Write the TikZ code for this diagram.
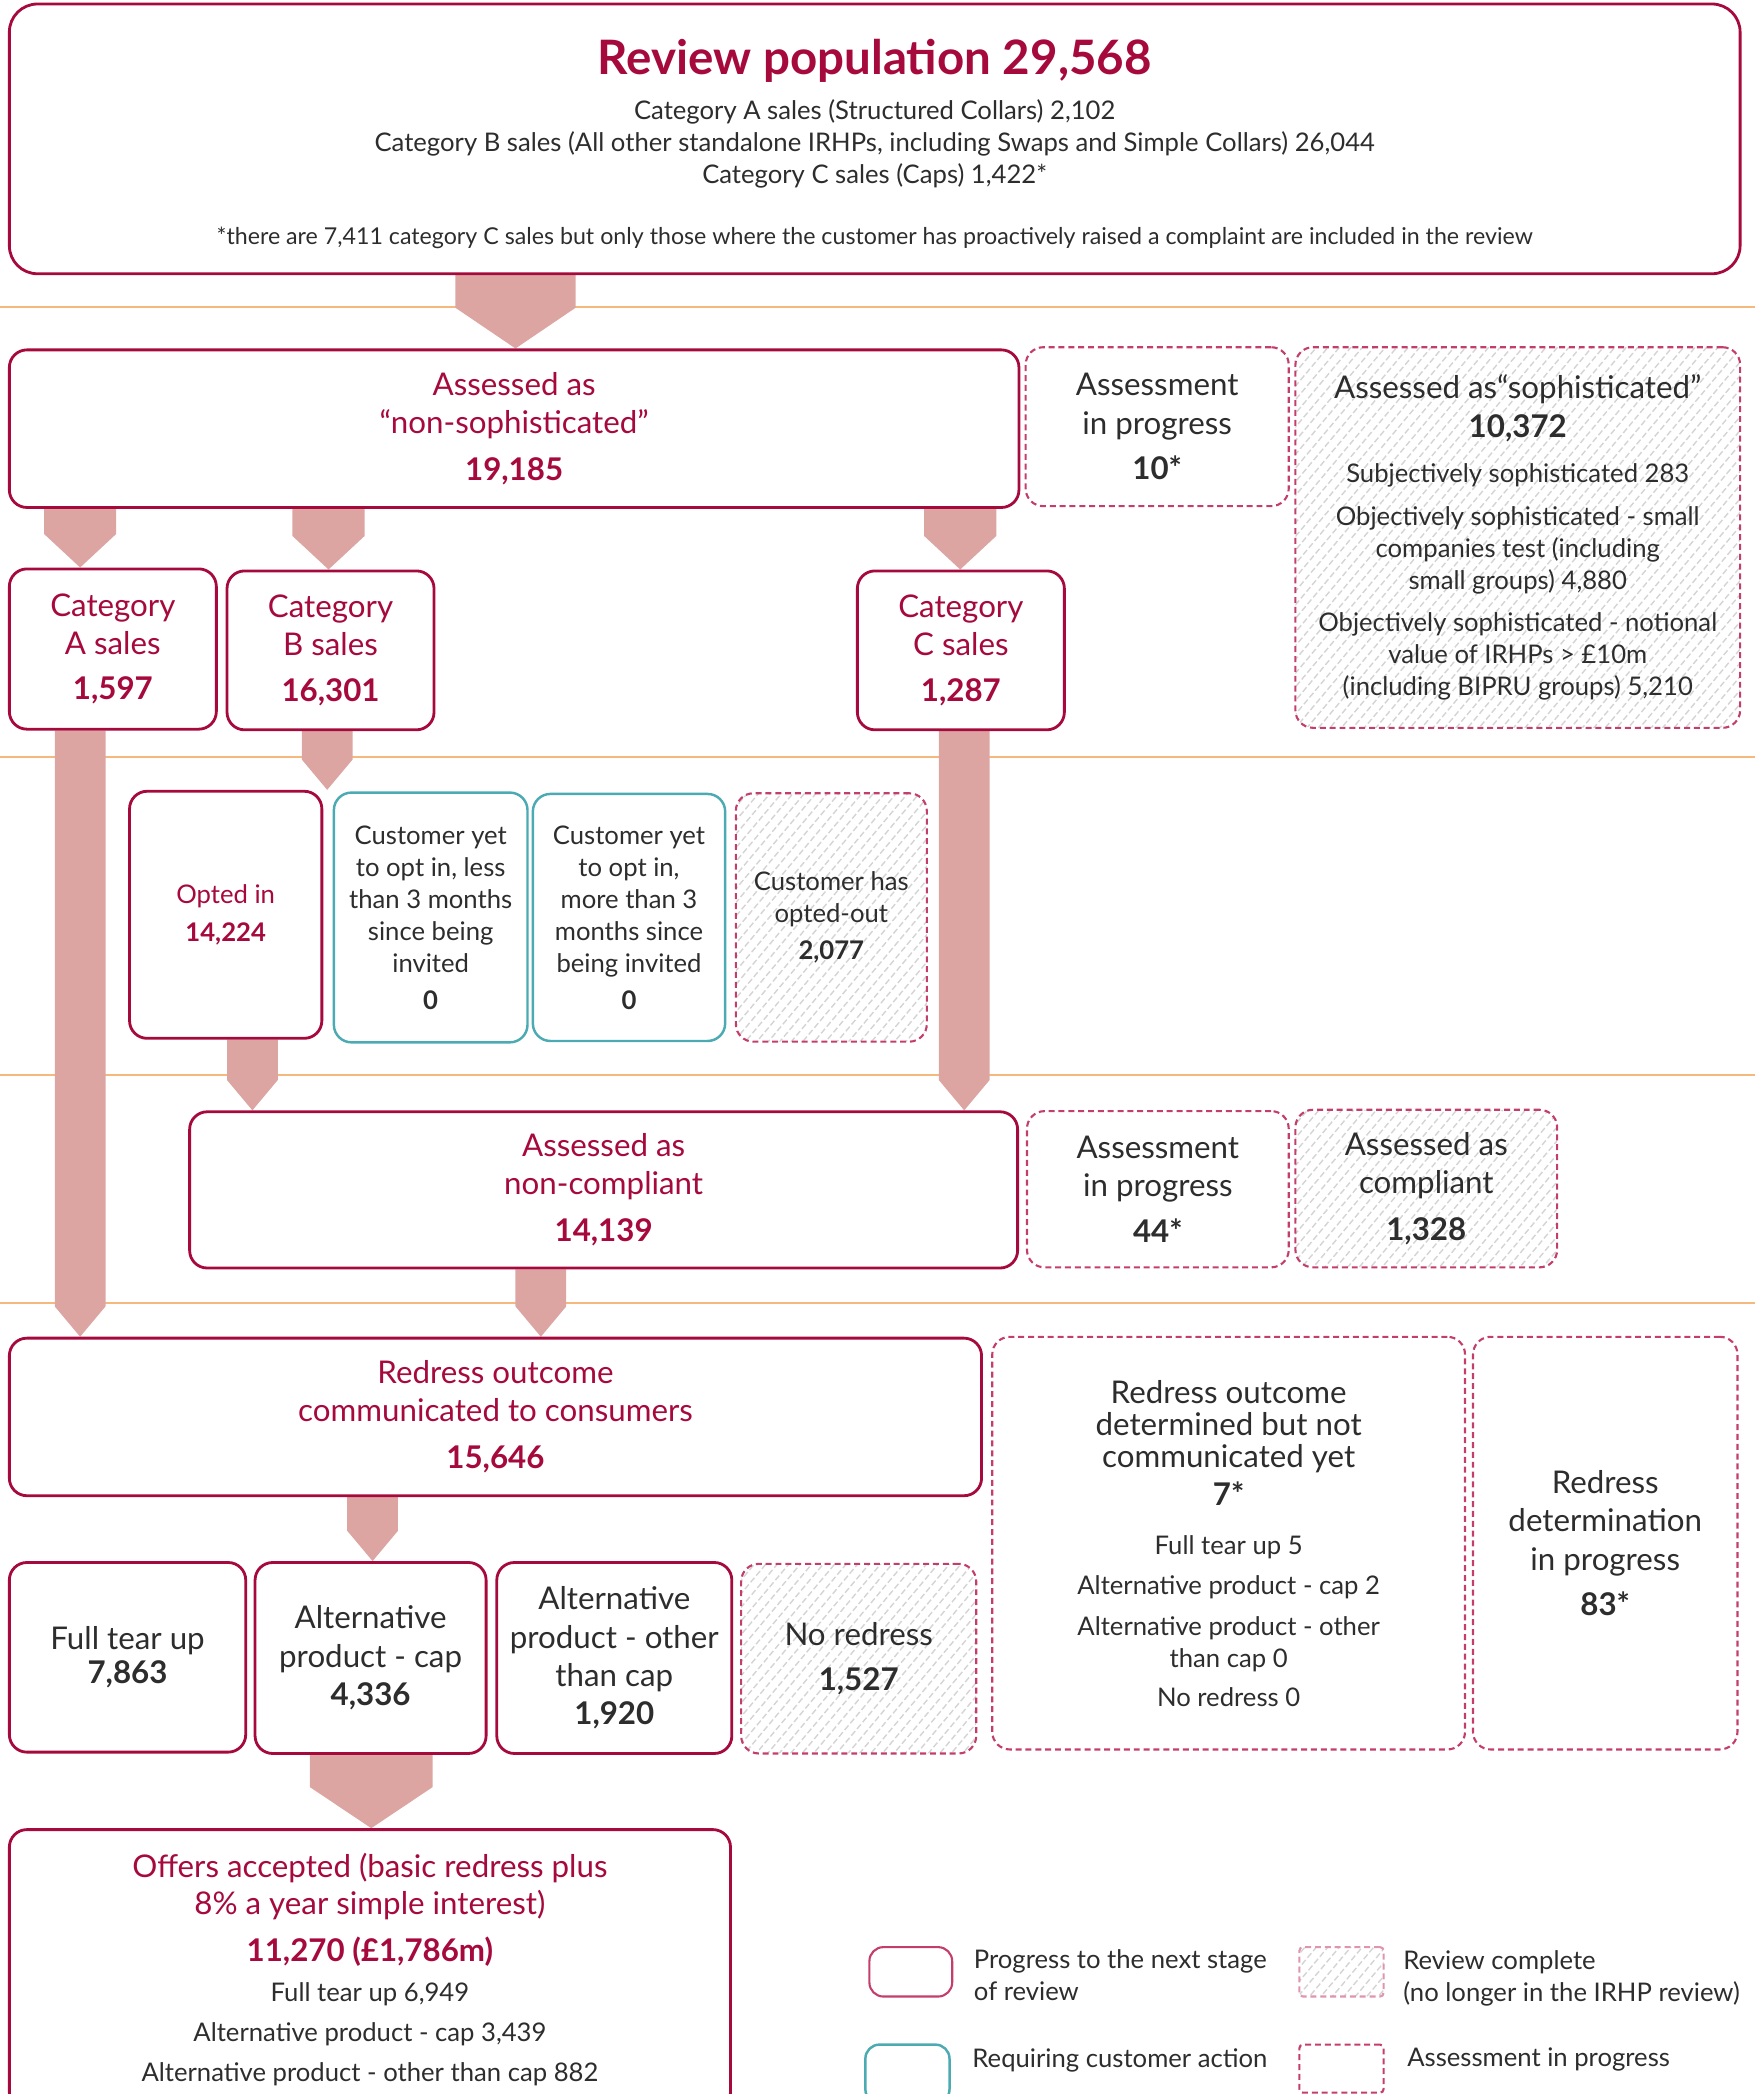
\documentclass[tikz,border=0pt]{standalone}
\usepackage{fontspec}
\setmainfont{Lato}
\usepackage{tikz}
\usetikzlibrary{positioning,calc,patterns.meta,backgrounds}

\definecolor{crimson}{RGB}{166,10,61}
\definecolor{crimsondash}{RGB}{196,62,106}
\definecolor{optteal}{RGB}{75,170,178}
\definecolor{flowpink}{RGB}{220,165,162}
\definecolor{stageline}{RGB}{246,185,125}
\definecolor{inkgray}{RGB}{45,45,45}
\definecolor{hatchgray}{RGB}{212,212,212}

\newcommand{\pxu}{0.013356cm}
\newcommand{\notesize}{\fontsize{6.6}{8.5}\selectfont\lineskiplimit=-9pt}
\newcommand{\bodysize}{\fontsize{7.3}{9.1}\selectfont\lineskiplimit=-9pt}
\newcommand{\bigsize}{\fontsize{8.9}{10.9}\selectfont\lineskiplimit=-9pt}
\newcommand{\titlesize}{\fontsize{13.5}{15}\selectfont}

% fat arrow from one box down to the next: from, to, x centre, half width
\newcommand{\flow}[4]{%
  \fill[flowpink] let \p1=(#1.south), \p2=(#2.north), \p3=(#3,0), \p4=(#4,0),
    \p5=({17+0.3*#4},0) in
    (\x3-\x4,\y1) -- (\x3+\x4,\y1) -- (\x3+\x4,\y2+\x5) -- (\x3,\y2)
    -- (\x3-\x4,\y2+\x5) -- cycle;}

\tikzset{
  boxsize/.style 2 args={minimum width=#1*\pxu, minimum height=#2*\pxu},
  stage/.style={draw=crimson, line width=0.8pt, rounded corners=5pt,
    align=center, inner sep=0pt, text=crimson, font=\bigsize},
  action/.style={draw=optteal, line width=0.7pt, rounded corners=5pt,
    align=center, inner sep=0pt, font=\bodysize},
  pending/.style={draw=crimsondash, line width=0.6pt, dash pattern=on 1.7pt off 1.1pt,
    rounded corners=5pt, align=center, inner sep=0pt, font=\bigsize},
  closed/.style={pending, pattern={Lines[angle=50,distance=2.5pt,line width=0.4pt]},
    pattern color=hatchgray},
  keytext/.style={inner sep=0pt, align=left, font=\bodysize},
}

\begin{document}
\begin{tikzpicture}[x=\pxu, y=-\pxu, every node/.style={text=inkgray}]
  \clip (0,0) rectangle (1314,1568);

  \node [stage, boxsize={1296}{202}, rounded corners=8pt, font=\bodysize, text=inkgray] (review) at (655,104)
    {\rule{0pt}{13pt}{\titlesize\bfseries\color{crimson}Review population 29,568}\\[3.5pt]
     Category A sales (Structured Collars) 2,102\\
     Category B sales (All other standalone IRHPs, including Swaps and Simple Collars) 26,044\\
     Category C sales (Caps) 1,422*\\[8.3pt]
     {\notesize *there are 7,411 category C sales but only those where the customer has proactively raised a complaint are included in the review}};

  \node [stage, boxsize={756}{118}] (nonsoph) at (385,321) {Assessed as\\“non-sophisticated”\\[2.5pt]\textbf{19,185}};
  \node [pending, boxsize={197}{119}] (waitsoph) at (866.5,319.5) {Assessment\\in progress\\[2pt]\textbf{10*}};
  \node [closed, boxsize={333}{285}, font=\bodysize] (soph) at (1136.5,402.5)
    {{\bigsize Assessed as“sophisticated”}\\[1.9pt]
     {\bigsize\bfseries 10,372}\\[3.8pt]
     Subjectively sophisticated 283\\[3pt]
     Objectively sophisticated - small\\companies test (including\\small groups) 4,880\\[3pt]
     Objectively sophisticated - notional\\value of IRHPs > £10m\\(including BIPRU groups) 5,210};

  \node [stage, boxsize={155}{120}] (catA) at (84.5,486) {Category\\A sales\\[2pt]\textbf{1,597}};
  \node [stage, boxsize={155}{119}] (catB) at (247.5,487) {Category\\B sales\\[2pt]\textbf{16,301}};
  \node [stage, boxsize={155}{119}] (catC) at (719.5,487) {Category\\C sales\\[2pt]\textbf{1,287}};

  \node [stage, boxsize={144}{185}, font=\bodysize] (optin) at (169,685) {Opted in\\[1.5pt]\textbf{14,224}};
  \node [action, boxsize={145}{187}] (yetless) at (322.5,687) {Customer yet\\to opt in, less\\than 3 months\\since being\\invited\\[1.5pt]\textbf{0}};
  \node [action, boxsize={144}{185}] (yetmore) at (471,687) {Customer yet\\to opt in,\\more than 3\\months since\\being invited\\[1.5pt]\textbf{0}};
  \node [closed, boxsize={143}{186}, font=\bodysize] (optout) at (622.5,687) {Customer has\\opted-out\\[1.5pt]\textbf{2,077}};

  \node [stage, boxsize={620}{117}] (noncomp) at (452,891) {Assessed as\\non-compliant\\[2.5pt]\textbf{14,139}};
  \node [pending, boxsize={196}{117}] (waitcomp) at (867,890.5) {Assessment\\in progress\\[2pt]\textbf{44*}};
  \node [closed, boxsize={196}{118}] (compl) at (1068,890) {Assessed as\\compliant\\[2.5pt]\textbf{1,328}};

  \node [stage, boxsize={728}{118}] (outcome) at (371,1061) {Redress outcome\\communicated to consumers\\[2.5pt]\textbf{15,646}};
  \node [pending, boxsize={354}{309}, font=\bodysize] (notsent) at (920,1155.5)
    {{\bigsize Redress outcome}\\{\bigsize determined but not}\\{\bigsize communicated yet}\\[1.9pt]
     {\bigsize\bfseries 7*}\\[4.9pt]
     Full tear up 5\\[2.3pt]
     Alternative product - cap 2\\[2.3pt]
     Alternative product - other\\than cap 0\\[2pt]
     No redress 0};
  \node [pending, boxsize={198}{309}] (determ) at (1202,1155.5) {Redress\\determination\\in progress\\[2pt]\textbf{83*}};

  \node [stage, text=inkgray, boxsize={177}{142}] (fulltear) at (95.5,1241) {Full tear up\\[-1.3pt]\textbf{7,863}};
  \node [stage, text=inkgray, boxsize={173}{143}] (altcap) at (277.5,1241.5) {Alternative\\product - cap\\\textbf{4,336}};
  \node [stage, text=inkgray, boxsize={176}{143}] (altother) at (460,1241.5) {Alternative\\product - other\\than cap\\\textbf{1,920}};
  \node [closed, boxsize={176}{142}] (noredress) at (643,1242) {No redress\\[2pt]\textbf{1,527}};

  \node [stage, boxsize={540}{210}, font=\bodysize, text=inkgray] (offers) at (277,1475)
    {{\bigsize\color{crimson}Offers accepted (basic redress plus}\\[1.5pt]
     {\bigsize\color{crimson}8\% a year simple interest)}\\[4.2pt]
     {\bigsize\bfseries\color{crimson}11,270 (£1,786m)}\\[2.3pt]
     Full tear up 6,949\\[2.3pt]
     Alternative product - cap 3,439\\[2.3pt]
     Alternative product - other than cap 882};

  % key
  \node [stage, line width=0.6pt, draw=crimsondash, boxsize={62}{37}, rounded corners=4pt] (keyprog) at (682,1476.5) {};
  \node [keytext, right=0.2cm of keyprog, yshift=-1pt] (keyprogtxt) {Progress to the next stage\\of review};
  \node [action, boxsize={63}{44}, rounded corners=4pt] (keyact) at (679.5,1553) {};
  \node [keytext, right=0.21cm of keyact.north east, yshift=-4.8pt] (keyacttxt) {Requiring customer action};
  \node [closed, draw=crimsondash!55, boxsize={63}{37}, rounded corners=1pt] (keydone) at (1004.5,1476.5) {};
  \node [keytext, right=0.18cm of keydone, yshift=-1.8pt] (keydonetxt) {Review complete\\(no longer in the IRHP review)};
  \node [pending, boxsize={63}{36}, rounded corners=1pt] (keyopen) at (1004.5,1549) {};
  \node [keytext, right=0.22cm of keyopen, yshift=2.6pt] (keyopentxt) {Assessment in progress};

  \begin{scope}[on background layer]
    \foreach \ly in {230,567,805,976}
      \draw [stageline, line width=0.6pt] (0,\ly) -- (1314,\ly);
    \flow{review}{nonsoph}{386}{45}
    \flow{nonsoph}{catA}{60}{27}
    \flow{nonsoph}{catB}{246}{27}
    \flow{nonsoph}{catC}{719}{27}
    \flow{catA}{outcome}{60}{19}
    \flow{catB}{optin}{245}{19}
    \flow{catC}{noncomp}{722}{19}
    \flow{optin}{noncomp}{189}{19}
    \flow{noncomp}{outcome}{405}{19}
    \flow{outcome}{altcap}{279}{19}
    \flow{altcap}{offers}{278}{46}
  \end{scope}
\end{tikzpicture}
\end{document}
